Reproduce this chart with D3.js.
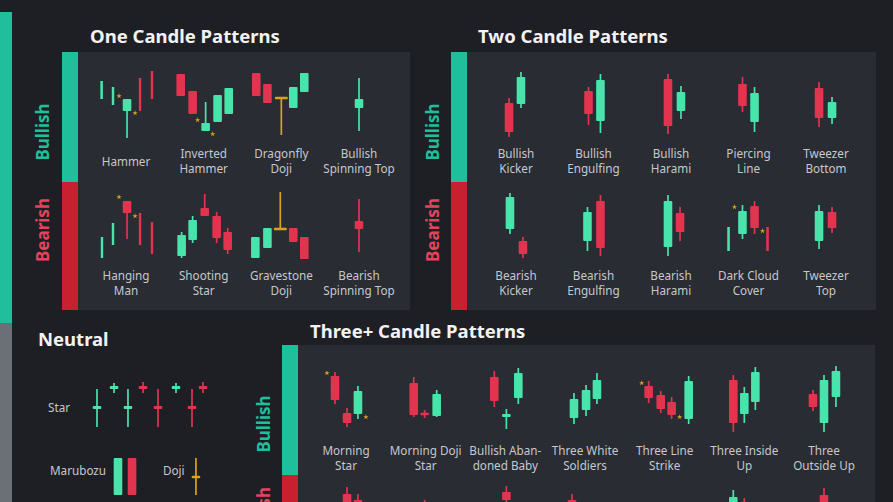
<!DOCTYPE html>
<html><head><meta charset="utf-8">
<script src="https://cdn.jsdelivr.net/npm/d3@7"></script>
<style>
html,body{margin:0;padding:0;background:#1e1f24;overflow:hidden}
svg{display:block;font-family:"Noto Sans",sans-serif}
</style></head><body>
<svg id="canvas"></svg>
<script>
// candle = [slot, open, high, low, close, style]  style: t thin, T wide gold doji, y gold, r/g forced colour
const oneBullNames = [["Hammer"], ["Inverted", "Hammer"], ["Dragonfly", "Doji"], ["Bullish", "Spinning Top"]];
const oneBullCandles = [
  [[-2.1, 41, 59, 41, 59, 't'], [-1.12, 35, 53, 35, 53, 't'], [0.09, 29, 41, 2, 41], [1.21, 62, 62, 29, 29, 't'], [2.24, 69, 69, 41, 41, 't']],
  [[-1.98, 66, 66, 44, 44], [-0.95, 49, 49, 26, 26], [0.17, 9, 38, 9, 17], [1.2, 18, 45, 18, 45], [2.16, 26, 52, 26, 52]],
  [[-2.16, 67, 67, 44, 44], [-1.2, 56, 56, 37, 37], [0, 42, 42, 5, 42, 'T'], [1.03, 32, 53, 32, 53], [1.98, 48, 67, 48, 67]],
  [[0, 32, 62, 9, 41]]
];
const oneBullDots = [[[-0.6, 44], [0.78, 27]], [[-0.52, 20], [0.78, 6]], [], []];

const oneBearNames = [["Hanging", "Man"], ["Shooting", "Star"], ["Gravestone", "Doji"], ["Bearish", "Spinning Top"]];
const oneBearCandles = [
  [[-2.07, 2, 23, 2, 23, 't'], [-1.12, 15, 37, 15, 37, 't'], [0.09, 59, 59, 21, 47], [1.21, 47, 47, 15, 15, 't'], [2.24, 38, 38, 6, 6, 't']],
  [[-1.9, 4, 28, 2, 25], [-0.95, 20, 44, 17, 40], [0.09, 52, 66, 44, 44], [1.12, 44, 48, 17, 22], [2.07, 28, 32, 6, 10]],
  [[-2.24, 2, 23, 2, 23], [-1.2, 12, 32, 12, 32], [-0.09, 31, 68, 31, 31, 'T'], [1.03, 32, 32, 18, 18], [1.98, 23, 23, 1, 1]],
  [[0, 39, 61, 8, 31]]
];
const oneBearDots = [[[-0.6, 63], [0.78, 44]], [], [], []];

const twoBullNames = [["Bullish", "Kicker"], ["Bullish", "Engulfing"], ["Bullish", "Harami"], ["Piercing", "Line"], ["Tweezer", "Bottom"]];
const twoBullCandles = [
  [[-0.6, 37, 42, 3, 8], [0.43, 36, 68, 32, 63]],
  [[-0.43, 49, 53, 15, 26], [0.6, 19, 66, 7, 60]],
  [[-0.26, 61, 66, 6, 14], [0.86, 29, 54, 21, 48]],
  [[-0.52, 56, 63, 28, 34], [0.52, 18, 53, 8, 47]],
  [[-0.6, 52, 58, 13, 22], [0.52, 22, 43, 16, 38]]
];

const twoBearNames = [["Bearish", "Kicker"], ["Bearish", "Engulfing"], ["Bearish", "Harami"], ["Dark Cloud", "Cover"], ["Tweezer", "Top"]];
const twoBearCandles = [
  [[-0.52, 31, 67, 26, 63], [0.6, 19, 23, 2, 6]],
  [[-0.52, 19, 53, 9, 48], [0.6, 59, 65, 4, 12]],
  [[-0.26, 13, 65, 4, 59], [0.78, 47, 53, 19, 28]],
  [[-1.72, 9, 33, 9, 33, 't'], [-0.52, 26, 55, 21, 49], [0.52, 54, 59, 26, 32], [1.64, 33, 33, 9, 9, 't']],
  [[-0.6, 19, 55, 11, 49], [0.52, 48, 53, 27, 32]]
];
const twoBearDots = [[], [], [], [[-1.21, 53], [1.21, 29]], []];

const threeBullNames = [["Morning", "Star"], ["Morning Doji", "Star"], ["Bullish Aban-", "doned Baby"], ["Three White", "Soldiers"], ["Three Line", "Strike"], ["Three Inside", "Up"], ["Three", "Outside Up"]];
const threeBullCandles = [
  [[-0.95, 54, 58, 26, 30], [0.09, 17, 22, 3, 7], [1.03, 16, 44, 11, 39]],
  [[-1.03, 47, 53, 13, 15], [-0.09, 16, 20, 12, 16, 'r'], [0.95, 14, 40, 13, 36]],
  [[-0.95, 53, 59, 23, 29], [0.09, 13, 21, 1, 16], [1.12, 32, 62, 26, 57]],
  [[-0.95, 12, 37, 6, 31], [0.09, 20, 45, 14, 40], [1.03, 31, 57, 26, 50]],
  [[-1.38, 44, 49, 27, 32], [-0.34, 35, 39, 17, 21], [0.6, 28, 33, 11, 15], [2.07, 11, 54, 6, 49]],
  [[-0.95, 50, 55, -2, 7], [0, 16, 43, 7, 37], [0.95, 28, 63, 20, 58]],
  [[-0.95, 36, 40, 19, 23], [0, 7, 55, -2, 50], [1.03, 33, 64, 23, 59]]
];
const threeBullDots = [[[-1.64, 57], [1.72, 13]], [], [], [], [[-1.98, 47], [1.29, 13]], [], []];

// bearish three+ row, only its tops show at the bottom edge
const threeBearCandles = [
  [[-0.95, 15, 40, 10, 35], [0.09, 51, 58, 37, 41], [1.03, 45, 51, 15, 20]],
  [[-1.03, 5, 40, 0, 35], [-0.09, 41, 45, 37, 41, 'r'], [0.95, 33, 37, 5, 10]],
  [[-0.95, 10, 40, 5, 35], [0.09, 53, 59, 37, 45], [1.12, 29, 33, 0, 5]],
  [[-1.12, 45, 51, 21, 27], [0.09, 35, 40, 12, 17], [1.03, 25, 30, 2, 7]],
  [[-1.38, 10, 25, 5, 20], [-0.34, 17, 33, 13, 28], [0.6, 25, 40, 20, 37], [2.07, 37, 41, -5, 0]],
  [[-0.95, 5, 55, 0, 48], [0, 40, 47, 17, 25], [0.95, 25, 30, 0, 5]],
  [[-0.95, 25, 40, 20, 35], [0, 50, 57, 0, 5], [1.03, 25, 30, -5, 0]]
];

const neutralStar = [[0, 91, 111, 73, 94], [1.47, 111, 117, 107, 114], [2.67, 91, 111, 73, 94], [3.97, 114, 118, 107, 111],
  [5.26, 94, 111, 73, 91], [6.81, 111, 117, 107, 114], [8.19, 94, 111, 73, 91], [9.14, 114, 118, 107, 111]];
const neutralMarubozu = [[1.81, 5, 42, 5, 42], [3.02, 42, 42, 5, 5]];
const neutralDoji = [[8.53, 23, 42, 5, 23, 'y']];

const GREEN = '#47e4ab', RED = '#e2344f', GOLD = '#d9a21c', TEAL = '#1fbf9c', BARRED = '#c9202f';
const PANEL = '#292c33', LABEL = '#c6c8cd';

const svg = d3.select('#canvas').attr('width', 893).attr('height', 502);
svg.append('rect').attr('width', 893).attr('height', 502).attr('fill', '#1e1f24');

// left edge strip
svg.append('rect').attr('x', 0).attr('y', 12).attr('width', 12).attr('height', 311).attr('fill', TEAL);
svg.append('rect').attr('x', 0).attr('y', 323).attr('width', 12).attr('height', 179).attr('fill', '#6a6f78');

let panel = (x, y, w, h, split) => {
  svg.append('rect').attr('x', x).attr('y', y).attr('width', w).attr('height', h).attr('fill', PANEL);
  svg.append('rect').attr('x', x).attr('y', y).attr('width', 16).attr('height', split - y).attr('fill', TEAL);
  svg.append('rect').attr('x', x).attr('y', split).attr('width', 16).attr('height', y + h - split).attr('fill', BARRED);
};
panel(62, 52, 348, 258, 182);
panel(451, 52, 425, 258, 182);
panel(282, 345, 593, 200, 475);

let title = (txt, x, y) => svg.append('text').attr('x', x).attr('y', y).text(txt)
  .attr('fill', '#f2f2f2').attr('font-size', 18.5).attr('font-weight', 700);
title('One Candle Patterns', 90, 43);
title('Two Candle Patterns', 478, 43);
title('Neutral', 38, 346);
title('Three+ Candle Patterns', 310, 338);

let side = (txt, x, y, col) => svg.append('text').text(txt)
  .attr('transform', `translate(${x},${y}) rotate(-90)`)
  .attr('text-anchor', 'middle').attr('dominant-baseline', 'central')
  .attr('fill', col).attr('font-size', 17).attr('font-weight', 700);
side('Bullish', 42, 132, TEAL);
side('Bearish', 42, 230, '#e2445d');
side('Bullish', 432, 132, TEAL);
side('Bearish', 432, 230, '#e2445d');
side('Bullish', 263, 424, TEAL);
side('Bearish', 263, 519, '#e2445d');

const off = d3.scaleLinear().domain([0, 1]).range([0, 11.6]);

let candleColor = d => {
  const st = d[5];
  if (st === 'y' || st === 'T') return GOLD;
  if (st === 'r') return RED;
  if (st === 'g') return GREEN;
  return d[4] > d[1] ? GREEN : d[4] < d[1] ? RED : GOLD;
};

let drawCandles = (g, data, xOf, y) => {
  const c = g.selectAll('g.candle').data(data).join('g').attr('class', 'candle');
  c.append('line')
    .attr('x1', d => xOf(d[0])).attr('x2', d => xOf(d[0]))
    .attr('y1', d => y(d[2])).attr('y2', d => y(d[3]))
    .attr('stroke', candleColor).attr('stroke-width', 1.7);
  c.append('rect')
    .attr('x', d => xOf(d[0]) - (d[5] === 't' ? 1.2 : d[5] === 'T' ? 6.5 : 4.3))
    .attr('width', d => d[5] === 't' ? 2.4 : d[5] === 'T' ? 13 : 8.6)
    .attr('y', d => d[1] === d[4] ? y(d[1]) - 1.2 : y(Math.max(d[1], d[4])))
    .attr('height', d => d[1] === d[4] ? 2.4 : Math.abs(y(d[1]) - y(d[4])))
    .attr('rx', d => d[5] === 't' ? 0 : 1)
    .attr('fill', candleColor);
};

let drawRow = (names, candles, dots, range, base, labelY) => {
  const xc = d3.scalePoint().domain(d3.range(candles.length)).range(range);
  const y = d3.scaleLinear().domain([0, 100]).range([base, base - 100]);
  candles.forEach((grp, i) => {
    const g = svg.append('g');
    drawCandles(g, grp, s => xc(i) + off(s), y);
    if (dots && dots[i].length) {
      g.selectAll('path.dot').data(dots[i]).join('path').attr('class', 'dot')
        .attr('d', d3.symbol(d3.symbolStar, 9))
        .attr('transform', d => `translate(${xc(i) + off(d[0])},${y(d[1])})`)
        .attr('fill', GOLD);
    }
    if (names) {
      names[i].forEach((ln, j, lines) => svg.append('text')
        .attr('x', xc(i)).attr('y', labelY + (lines.length === 1 ? 7.5 : j * 15))
        .attr('text-anchor', 'middle').attr('fill', LABEL).attr('font-size', 11.7)
        .text(ln));
    }
  });
};

drawRow(oneBullNames, oneBullCandles, oneBullDots, [126, 359], 140, 158);
drawRow(oneBearNames, oneBearCandles, oneBearDots, [126, 359], 260, 280);
drawRow(twoBullNames, twoBullCandles, null, [516, 826], 140, 158);
drawRow(twoBearNames, twoBearCandles, twoBearDots, [516, 826], 260, 280);
drawRow(threeBullNames, threeBullCandles, threeBullDots, [346, 824], 430, 455);
drawRow(null, threeBearCandles, null, [346, 824], 545, 580);

// neutral block
const nx = d3.scaleLinear().domain([0, 1]).range([97, 108.6]);
const ny = d3.scaleLinear().domain([0, 100]).range([500, 400]);
const ng = svg.append('g');
drawCandles(ng.append('g'), neutralStar, nx, ny);
drawCandles(ng.append('g'), neutralMarubozu, nx, ny);
drawCandles(ng.append('g'), neutralDoji, nx, ny);
[['Star', 48, 412], ['Marubozu', 50, 475], ['Doji', 163, 475]].forEach(d => {
  svg.append('text').attr('x', d[1]).attr('y', d[2]).text(d[0]).attr('fill', LABEL).attr('font-size', 11.7);
});
</script></body></html>
